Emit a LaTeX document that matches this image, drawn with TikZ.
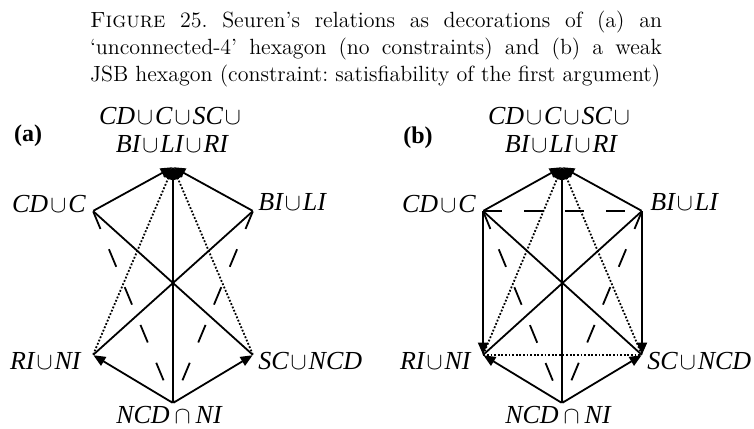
\documentclass[tikz,border=0pt]{standalone}
\usepackage{fontspec}
\newfontfamily\lbfont{Liberation Serif}
\usetikzlibrary{arrows.meta}
\newcommand{\un}{\kern1pt$\cup$\kern1pt}
\newcommand{\nt}{\kern2.5pt$\cap$\kern2.5pt}
\tikzset{
  vtx/.style={inner sep=0pt, minimum size=0pt},
  lbl/.style={font=\lbfont\itshape\fontsize{13}{12}\selectfont, inner sep=0pt},
  tagl/.style={font=\lbfont\bfseries\fontsize{12}{12}\selectfont, inner sep=0pt},
  captxt/.style={text width=286pt, align=justify, inner sep=0pt,
                 font=\fontsize{11}{13.6}\selectfont},
  imp/.style={-{Triangle[length=6pt,width=5pt]}, line width=0.9pt},
  dimp/.style={-{Triangle[length=6pt,width=5pt]}, line width=0.9pt,
               dash pattern=on 0.9pt off 0.9pt},
  ctr/.style={line width=0.9pt},
  dsh/.style={line width=0.9pt, dash pattern=on 9.5pt off 11pt},
  dtd/.style={line width=0.9pt, dash pattern=on 0.9pt off 0.9pt},
}
\begin{document}
\begin{tikzpicture}[x=0.5pt, y=-0.5pt]
  \useasboundingbox (0,0) rectangle (754,428);

  \node[captxt, anchor=base] (cap) at (376,27) {\parfillskip=0pt\frenchspacing
    \textsc{Figure} 25. Seuren's relations as decorations of (a) an\linebreak
    `unconnected-4' hexagon (no constraints) and (b) a weak\linebreak
    JSB hexagon (constraint: satisfiability of the first argument)};

  % (a) unconnected-4 hexagon
  \node[tagl] (taga) at (28,136) {(a)};
  \node[vtx] (aT) at (173,167) {};
  \node[vtx] (aUL) at (93,211) {};
  \node[vtx] (aUR) at (253,211) {};
  \node[vtx] (aLL) at (93,355) {};
  \node[vtx] (aLR) at (253,355) {};
  \node[vtx] (aB) at (173,403) {};

  \node[lbl, anchor=base] (aTl1) at (171,124) {CD\un C\un SC\un};
  \node[lbl, anchor=base] (aTl2) at (172,152) {BI\un LI\un RI};
  \node[lbl, anchor=base east] (aULl) at (86,212) {CD\un C};
  \node[lbl, anchor=base west] (aURl) at (258,210) {BI\un LI};
  \node[lbl, anchor=base east] (aLLl) at (81,369) {RI\un NI};
  \node[lbl, anchor=base west] (aLRl) at (258,369) {SC\un NCD};
  \node[lbl, anchor=base] (aBl) at (169,423) {NCD\nt NI};

  \draw[dsh] (aUL) -- (aB);
  \draw[dsh] (aUR) -- (aB);
  \draw[ctr] (aUL) -- (aLR);
  \draw[ctr] (aUR) -- (aLL);
  \draw[dimp] (aLL) -- (aT);
  \draw[dimp] (aLR) -- (aT);
  \draw[imp] (aUL) -- (aT);
  \draw[imp] (aUR) -- (aT);
  \draw[imp] (aB) -- (aT);
  \draw[imp] (aB) -- (aLL);
  \draw[imp] (aB) -- (aLR);

  % (b) weak JSB hexagon
  \node[tagl] (tagb) at (418,138) {(b)};
  \node[vtx] (bT) at (562,167) {};
  \node[vtx] (bUL) at (483,211) {};
  \node[vtx] (bUR) at (642,211) {};
  \node[vtx] (bLL) at (483,355) {};
  \node[vtx] (bLR) at (642,355) {};
  \node[vtx] (bB) at (562,403) {};

  \node[lbl, anchor=base] (bTl1) at (560,124) {CD\un C\un SC\un};
  \node[lbl, anchor=base] (bTl2) at (561,152) {BI\un LI\un RI};
  \node[lbl, anchor=base east] (bULl) at (476,212) {CD\un C};
  \node[lbl, anchor=base west] (bURl) at (650,210) {BI\un LI};
  \node[lbl, anchor=base east] (bLLl) at (471,369) {RI\un NI};
  \node[lbl, anchor=base west] (bLRl) at (647,369) {SC\un NCD};
  \node[lbl, anchor=base] (bBl) at (558,423) {NCD\nt NI};

  \draw[dsh] (bUL) -- (bUR);
  \draw[dsh] (bUL) -- (bB);
  \draw[dsh] (bUR) -- (bB);
  \draw[dtd] (bLL) -- (bLR);
  \draw[ctr] (bUL) -- (bLR);
  \draw[ctr] (bUR) -- (bLL);
  \draw[dimp] (bLL) -- (bT);
  \draw[dimp] (bLR) -- (bT);
  \draw[imp] (bUL) -- (bT);
  \draw[imp] (bUR) -- (bT);
  \draw[imp] (bB) -- (bT);
  \draw[imp] (bUL) -- (bLL);
  \draw[imp] (bUR) -- (bLR);
  \draw[imp] (bB) -- (bLL);
  \draw[imp] (bB) -- (bLR);
\end{tikzpicture}
\end{document}
